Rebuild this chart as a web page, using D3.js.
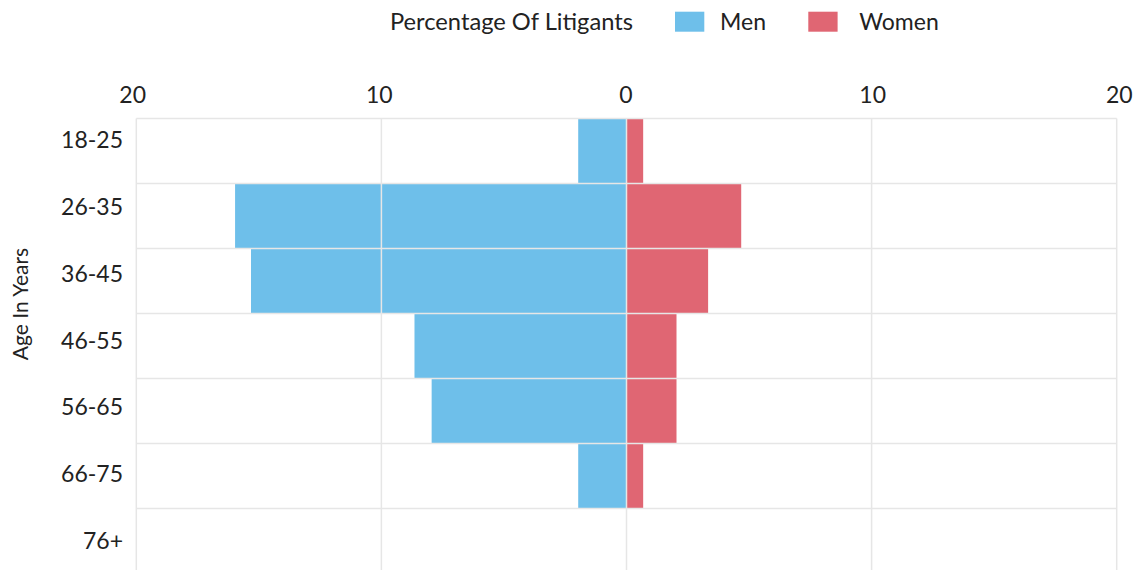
<!DOCTYPE html>
<html>
<head>
<meta charset="utf-8">
<script src="https://cdn.jsdelivr.net/npm/d3@7"></script>
<style>
html,body{margin:0;padding:0;background:#fff;overflow:hidden;}
svg{display:block;font-family:Lato,"Noto Sans",sans-serif;}
</style>
</head>
<body>
<svg id="chart" width="1137" height="570"></svg>
<script>
const ageGroups = ["18-25","26-35","36-45","46-55","56-65","66-75","76+"];
const menValues = [1.97, 15.97, 15.32, 8.65, 7.95, 1.97, 0];
const womenValues = [0.68, 4.68, 3.33, 2.04, 2.04, 0.68, 0];
const xTicks = [-20, -10, 0, 10, 20];
const seriesNames = ["Men", "Women"];
const seriesColors = ["#6ebfea", "#e06673"];
const legendTitle = "Percentage Of Litigants";
const yTitle = "Age In Years";

const svg = d3.select("#chart");
const plotLeft = 136.3, plotRight = 1116.7, plotTop = 118.5, rowH = 65;

const x = d3.scaleLinear().domain([-20, 20]).range([plotLeft, plotRight]);
const xLabel = d3.scaleLinear().domain([-20, 20]).range([132.7, 1119.3]);
const y = d3.scaleBand().domain(ageGroups).range([plotTop, plotTop + rowH * ageGroups.length]).paddingInner(0).paddingOuter(0);
const yLabel = d3.scaleBand().domain(ageGroups).range([106.6, 106.6 + 66.83 * ageGroups.length]);

// bars
const g = svg.append("g");
g.selectAll("rect.men").data(ageGroups).join("rect")
  .attr("class", "men")
  .attr("x", (d, i) => x(-menValues[i]))
  .attr("y", d => y(d))
  .attr("width", (d, i) => x(0) - x(-menValues[i]))
  .attr("height", y.bandwidth())
  .attr("fill", seriesColors[0]);
g.selectAll("rect.women").data(ageGroups).join("rect")
  .attr("class", "women")
  .attr("x", x(0))
  .attr("y", d => y(d))
  .attr("width", (d, i) => x(womenValues[i]) - x(0))
  .attr("height", y.bandwidth())
  .attr("fill", seriesColors[1]);

// grid lines
const gridColor = "#e6e6e6";
const plotBottom = plotTop + rowH * ageGroups.length;
svg.append("g").selectAll("line").data(xTicks).join("line")
  .attr("x1", d => x(d)).attr("x2", d => x(d))
  .attr("y1", plotTop).attr("y2", plotBottom)
  .attr("stroke", gridColor).attr("stroke-width", 1.5);
const rowEdges = ageGroups.map(d => y(d));
svg.append("g").selectAll("line").data(rowEdges).join("line")
  .attr("x1", plotLeft).attr("x2", plotRight)
  .attr("y1", d => d).attr("y2", d => d)
  .attr("stroke", gridColor).attr("stroke-width", 1.5);

// x tick labels (top)
svg.append("g").selectAll("text").data(xTicks).join("text")
  .attr("x", d => xLabel(d)).attr("y", 103)
  .attr("text-anchor", "middle")
  .attr("font-size", 23).attr("fill", "#222")
  .text(d => Math.abs(d));

// y labels
svg.append("g").selectAll("text").data(ageGroups).join("text")
  .attr("x", 123).attr("y", d => yLabel(d) + yLabel.bandwidth() / 2)
  .attr("dy", "0.35em")
  .attr("text-anchor", "end")
  .attr("font-size", 23).attr("fill", "#222")
  .text(d => d);

// y title
svg.append("text")
  .attr("transform", "translate(28,304) rotate(-90)")
  .attr("text-anchor", "middle")
  .attr("font-size", 21).attr("fill", "#222")
  .text(yTitle);

// legend
const lg = svg.append("g");
lg.append("text").attr("x", 390).attr("y", 30)
  .attr("font-size", 23.7).attr("fill", "#222").text(legendTitle);
const legendX = [675, 808.3];
const legendTextX = [720, 859.3];
seriesNames.forEach((s, i) => {
  lg.append("rect").attr("x", legendX[i]).attr("y", 11.7).attr("width", 29.3).attr("height", 20)
    .attr("fill", seriesColors[i]);
  lg.append("text").attr("x", legendTextX[i]).attr("y", 30)
    .attr("font-size", 23).attr("fill", "#222").text(s);
});
</script>
</body>
</html>
